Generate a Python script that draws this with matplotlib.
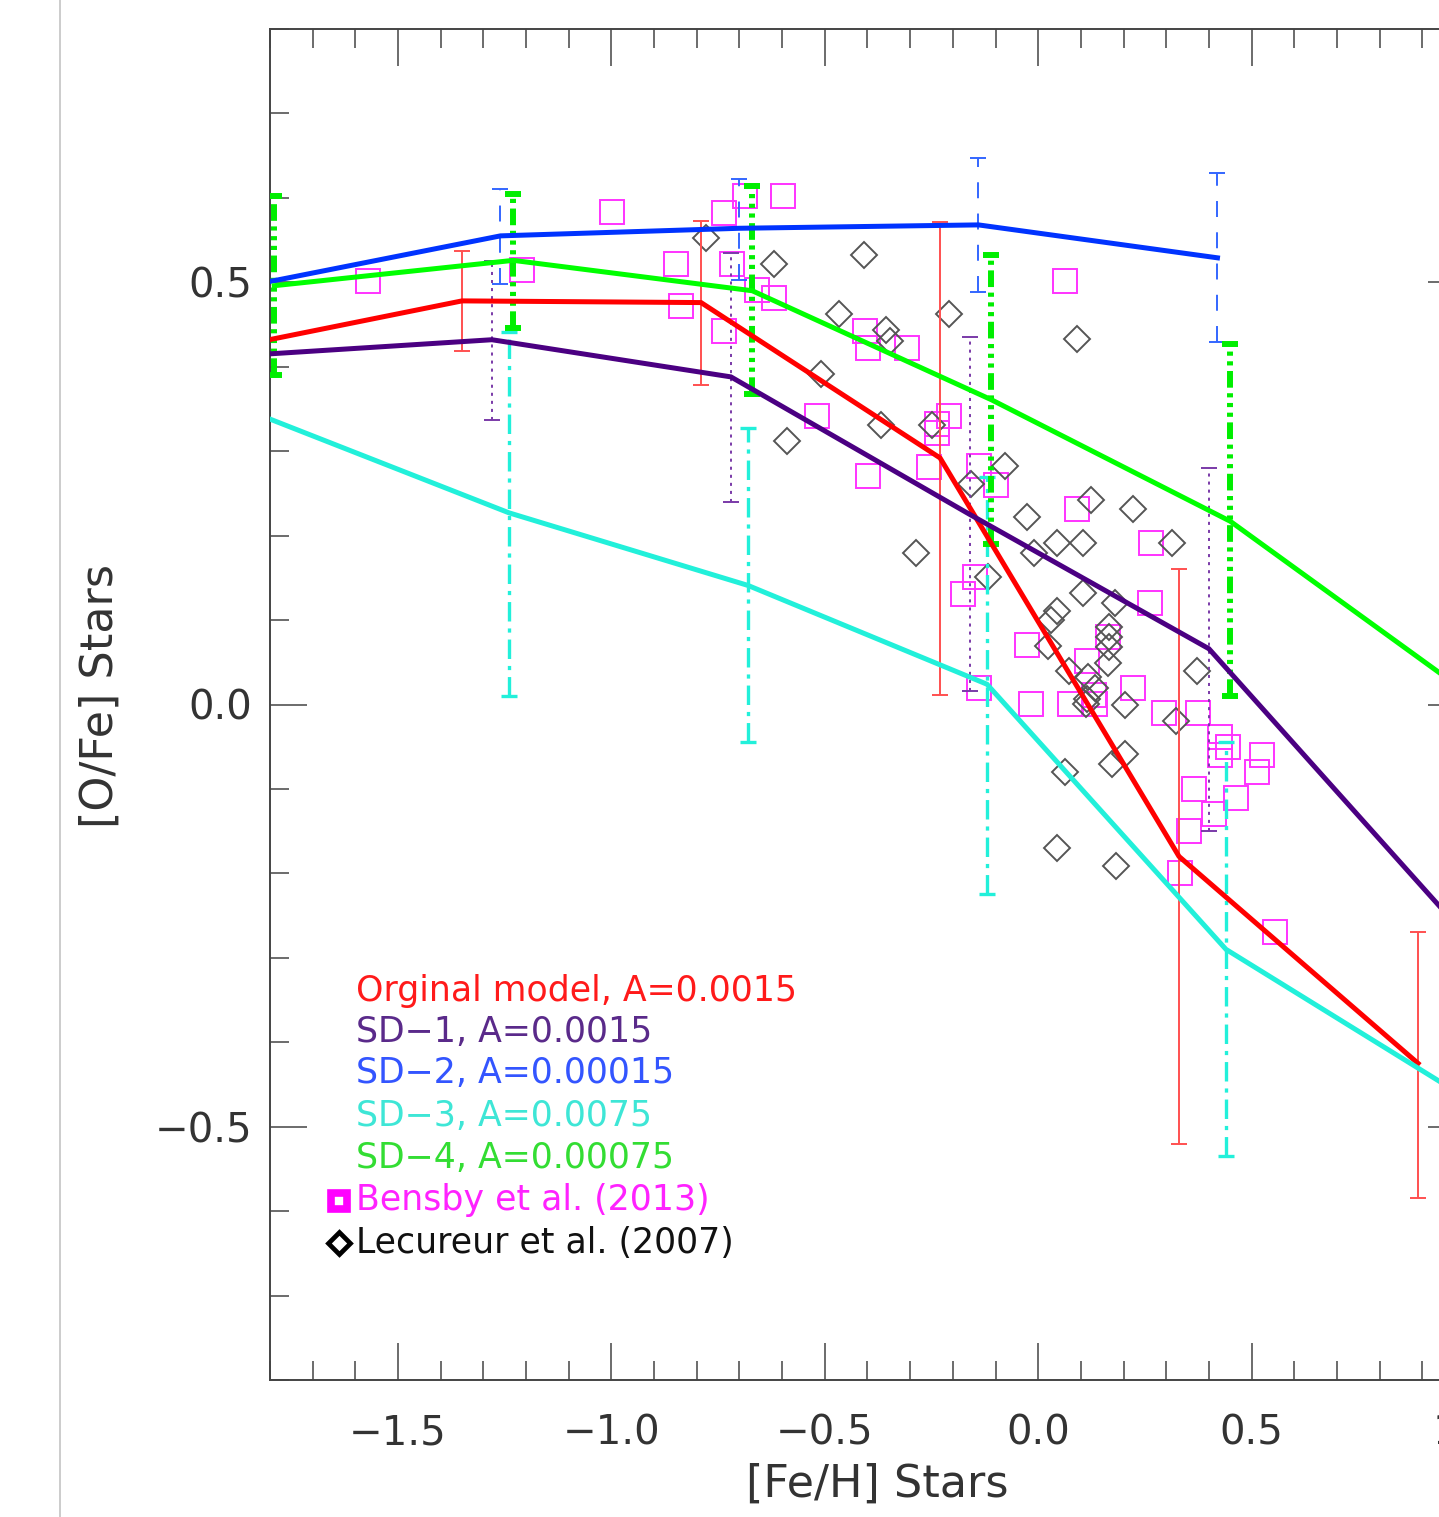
import numpy as np
import matplotlib
matplotlib.use("Agg")
import matplotlib.pyplot as plt
from matplotlib.lines import Line2D

plt.rcParams['font.family'] = ['DejaVu Sans']
plt.rcParams['lines.scale_dashes'] = False

# --- model tracks: [O/Fe] vs [Fe/H] with bin spread (low / high) ---
orig_feh = [-1.91, -1.35, -0.79, -0.23, 0.33, 0.89]
orig_ofe = [0.421, 0.478, 0.476, 0.292, -0.180, -0.425]
orig_lo = [0.36, 0.419, 0.378, 0.011, -0.520, -0.585]
orig_hi = [0.48, 0.537, 0.573, 0.571, 0.161, -0.269]

sd1_feh = [-1.84, -1.28, -0.72, -0.16, 0.40, 0.96]
sd1_ofe = [0.414, 0.432, 0.388, 0.225, 0.066, -0.250]
sd1_lo = [0.33, 0.337, 0.240, 0.016, -0.150, -0.45]
sd1_hi = [0.50, 0.525, 0.535, 0.435, 0.280, -0.05]

sd2_feh = [-1.82, -1.26, -0.70, -0.14, 0.42]
sd2_ofe = [0.499, 0.555, 0.564, 0.568, 0.529]
sd2_lo = [0.44, 0.498, 0.503, 0.488, 0.429]
sd2_hi = [0.56, 0.611, 0.622, 0.647, 0.629]

sd3_feh = [-1.80, -1.24, -0.68, -0.12, 0.44, 1.00]
sd3_ofe = [0.338, 0.227, 0.141, 0.024, -0.290, -0.465]
sd3_lo = [np.nan, 0.010, -0.045, -0.224, -0.535, np.nan]
sd3_hi = [np.nan, 0.441, 0.327, 0.269, -0.044, np.nan]

sd4_feh = [-1.79, -1.23, -0.67, -0.11, 0.45, 1.01]
sd4_ofe = [0.496, 0.526, 0.490, 0.361, 0.217, 0.012]
sd4_lo = [0.390, 0.446, 0.368, 0.190, 0.010, np.nan]
sd4_hi = [0.602, 0.604, 0.614, 0.532, 0.427, np.nan]

# --- observations ---
bensby_feh = [-1.570, -0.998, -1.209, -0.848, -0.837, -0.737, -0.688, -0.598,
              -0.718, -0.660, -0.618, -0.737, -0.407, -0.398, -0.308, -0.519,
              -0.208, -0.237, -0.237, -0.398, -0.257, -0.138, -0.098, -0.148,
              -0.176, 0.092, 0.264, 0.262, -0.027, 0.114, 0.163, 0.223,
              -0.138, -0.017, 0.075, 0.130, 0.133, 0.294, 0.374, 0.425,
              0.444, 0.425, 0.524, 0.513, 0.364, 0.464, 0.413, 0.353,
              0.333, 0.554, 0.063]
bensby_ofe = [0.502, 0.583, 0.514, 0.522, 0.472, 0.582, 0.602, 0.602,
              0.522, 0.491, 0.482, 0.442, 0.442, 0.422, 0.422, 0.342,
              0.342, 0.332, 0.322, 0.271, 0.281, 0.282, 0.260, 0.151,
              0.131, 0.231, 0.191, 0.120, 0.070, 0.052, 0.080, 0.020,
              0.020, 0.001, 0.001, 0.011, 0.001, -0.010, -0.010, -0.039,
              -0.050, -0.060, -0.060, -0.080, -0.100, -0.111, -0.130, -0.150,
              -0.200, -0.270, 0.502]

lecureur_feh = [-0.778, -0.618, -0.408, -0.466, -0.208, -0.357, -0.347, -0.509,
                -0.369, -0.248, -0.589, -0.077, 0.091, -0.157, -0.027, 0.124,
                0.223, -0.287, -0.009, 0.044, 0.104, 0.313, -0.117, 0.104,
                0.180, 0.044, 0.031, 0.165, 0.165, 0.165, 0.022, 0.163,
                0.073, 0.372, 0.116, 0.134, 0.114, 0.113, 0.203, 0.323,
                0.173, 0.204, 0.063, 0.044, 0.183]
lecureur_ofe = [0.552, 0.522, 0.532, 0.462, 0.462, 0.443, 0.431, 0.392,
                0.331, 0.331, 0.312, 0.283, 0.433, 0.261, 0.222, 0.242,
                0.231, 0.180, 0.180, 0.191, 0.191, 0.191, 0.151, 0.132,
                0.120, 0.111, 0.100, 0.092, 0.080, 0.068, 0.069, 0.049,
                0.040, 0.040, 0.032, 0.019, 0.007, 0.001, 0.000, -0.020,
                -0.071, -0.059, -0.080, -0.170, -0.191]

models = [
    # x, y, lo, hi, line colour, bar colour, bar width, bar dashes, label, text colour
    (orig_feh, orig_ofe, orig_lo, orig_hi, '#ff0000', '#ff5050', 1.4, '-',
     'Orginal model, A=0.0015', '#ff1a1a'),
    (sd1_feh, sd1_ofe, sd1_lo, sd1_hi, '#4b0082', '#7a3aa8', 1.4, (0, (2.2, 3.6)),
     'SD\u22121, A=0.0015', '#5a2a8a'),
    (sd2_feh, sd2_ofe, sd2_lo, sd2_hi, '#0033ff', '#3366ff', 1.4, (0, (11.5, 11.0)),
     'SD\u22122, A=0.00015', '#3355ff'),
    (sd3_feh, sd3_ofe, sd3_lo, sd3_hi, '#22f0da', '#22f0da', 2.4, (0, (14, 5, 3, 5)),
     'SD\u22123, A=0.0075', '#3ee6d6'),
    (sd4_feh, sd4_ofe, sd4_lo, sd4_hi, '#00ff00', '#00ee00', 4.3,
     (0, (12, 4, 3, 4, 3, 4, 3, 4)), 'SD\u22124, A=0.00075', '#33dd33'),
]

W, H = 1439, 1517
fig = plt.figure(figsize=(W / 100, H / 100), dpi=100)
ax = fig.add_axes([270 / W, (H - 1380) / H, 1195 / W, 1351 / H])

# thin page rule on the far left
fig.add_artist(Line2D([60 / W, 60 / W], [0, 1], color='#c4c4c4', lw=1.2,
                      transform=fig.transFigure))

# observational data
ax.plot(bensby_feh, bensby_ofe, ls='none', marker='s', ms=17.5, mfc='none',
        mec='#ff33ff', mew=1.4, zorder=2)
ax.plot(lecureur_feh, lecureur_ofe, ls='none', marker='D', ms=13.5, mfc='none',
        mec='#555555', mew=1.4, zorder=2)

# model tracks with spread bars
for x, y, lo, hi, lc, bc, bw, bls, lab, tc in models:
    y = np.array(y)
    yerr = [y - np.array(lo), np.array(hi) - y]
    _, caps, bars = ax.errorbar(x, y, yerr=yerr, fmt='none', ecolor=bc,
                                elinewidth=bw, capsize=6, capthick=bw, zorder=3)
    bars[0].set_linestyle(bls)
    ax.plot(x, y, color=lc, lw=3.6, zorder=4, solid_joinstyle='miter')

ax.set_xlim(-1.8, 1.0)
ax.set_ylim(-0.8, 0.8)
ax.set_xticks(np.arange(-1.5, 1.01, 0.5))
ax.set_xticks(np.arange(-1.8, 1.001, 0.1), minor=True)
ax.set_yticks([-0.5, 0.0, 0.5])
ax.set_yticks(np.arange(-0.8, 0.801, 0.1), minor=True)
ax.set_xticklabels(['\u22121.5', '\u22121.0', '\u22120.5', '0.0', '0.5', '1.0'])
ax.set_yticklabels(['\u22120.5', '0.0', '0.5'])

ax.tick_params(which='both', direction='in', top=True, right=True,
               color='#444444', width=1.1)
ax.tick_params(which='major', length=26.5, labelsize=29, labelcolor='#333333')
ax.tick_params(which='minor', length=13.5)
ax.tick_params(axis='x', which='major', pad=24)
ax.tick_params(axis='y', which='major', pad=13)
for sp in ax.spines.values():
    sp.set_color('#444444')
    sp.set_linewidth(1.4)

ax.set_xlabel('[Fe/H] Stars', fontsize=32, color='#333333')
ax.set_ylabel('[O/Fe] Stars', fontsize=32, color='#333333')
ax.xaxis.set_label_coords(0.508, -0.061)
ax.yaxis.set_label_coords(-0.124, 0.506)

# legend written as coloured text, markers for the data sets
base = [1000.7, 1041.7, 1083.3, 1125.7, 1168.3, 1210.0, 1252.7]
to_ax = lambda py: (1380 - py) / 1351
tx = (356 - 270) / 1195
mx = (339 - 270) / 1195
for (_, _, _, _, _, _, _, _, lab, tc), py in zip(models, base[:5]):
    ax.text(tx, to_ax(py), lab, color=tc, fontsize=25, va='baseline',
            transform=ax.transAxes)
ax.text(tx, to_ax(base[5]), 'Bensby et al. (2013)', color='#ff22ff',
        fontsize=25, va='baseline', transform=ax.transAxes)
ax.text(tx, to_ax(base[6]), 'Lecureur et al. (2007)', color='#111111',
        fontsize=25, va='baseline', transform=ax.transAxes)
ax.plot([mx], [to_ax(1201)], marker='s', ms=12, mfc='none', mec='#ff00ff',
        mew=5.5, transform=ax.transAxes, clip_on=False)
ax.plot([mx], [to_ax(1243)], marker='D', ms=11.5, mfc='none', mec='#000000',
        mew=3.4, transform=ax.transAxes, clip_on=False)

fig.savefig('out.png', dpi=100)
